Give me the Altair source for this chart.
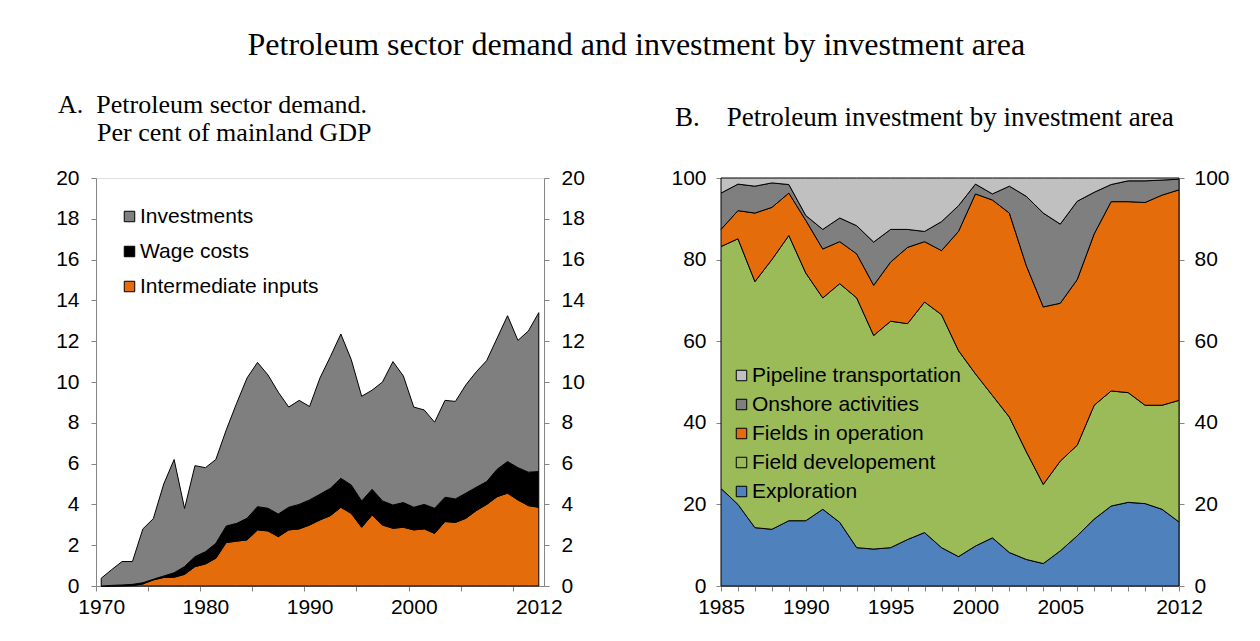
import altair as alt
import pandas as pd

# ---------------- Panel A data (per cent of mainland GDP) ----------------
years_a = list(range(1970, 2013))
intermediate_inputs = [0, 0, 0.01, 0.02, 0.1, 0.3, 0.42, 0.43, 0.57, 0.95,
                       1.08, 1.36, 2.13, 2.2, 2.26, 2.75, 2.7, 2.42, 2.75, 2.8,
                       2.99, 3.24, 3.45, 3.86, 3.56, 2.88, 3.48, 2.99, 2.83, 2.88,
                       2.75, 2.8, 2.58, 3.16, 3.12, 3.32, 3.7, 4.0, 4.38, 4.55,
                       4.22, 3.94, 3.86]
wage_costs = [0, 0.03, 0.04, 0.06, 0.06, 0.03, 0.07, 0.22, 0.38, 0.49,
              0.60, 0.73, 0.81, 0.87, 1.06, 1.14, 1.11, 1.11, 1.11, 1.2,
              1.23, 1.26, 1.34, 1.42, 1.39, 1.29, 1.26, 1.18, 1.14, 1.21,
              1.11, 1.2, 1.23, 1.19, 1.15, 1.23, 1.14, 1.12, 1.34, 1.55,
              1.58, 1.64, 1.75]
investments = [0.38, 0.77, 1.15, 1.12, 2.64, 2.97, 4.51, 5.55, 2.85, 4.46,
               4.12, 4.11, 4.71, 5.89, 6.88, 7.07, 6.54, 5.97, 4.91, 5.1,
               4.58, 5.7, 6.46, 7.07, 6.15, 5.13, 4.86, 5.83, 7.03, 6.21,
               4.91, 4.63, 4.22, 4.75, 4.78, 5.31, 5.66, 5.93, 6.43, 7.15,
               6.24, 6.92, 7.79]

# ---------------- Panel B data (per cent of petroleum investment) ----------------
years_b = list(range(1985, 2013))
exploration = [23.9, 20.0, 14.3, 13.9, 16.0, 16.0, 18.8, 15.6, 9.4, 9.05,
               9.4, 11.4, 13.1, 9.4, 7.2, 9.8, 11.8, 8.2, 6.5, 5.5,
               8.6, 12.3, 16.4, 19.6, 20.5, 20.2, 18.8, 15.7]
field_developement = [59.3, 65.1, 60.3, 66.1, 69.9, 60.7, 51.8, 58.5, 61.2, 52.35,
                      55.5, 52.9, 56.5, 57.1, 50.5, 42.2, 34.9, 33.2, 26.4, 19.4,
                      22.0, 22.2, 27.9, 28.2, 26.9, 24.1, 25.5, 29.8]
fields_in_operation = [4.2, 6.9, 16.8, 12.8, 10.4, 12.9, 12.0, 10.3, 10.8, 12.3,
                       14.5, 18.7, 14.8, 15.7, 29.2, 44.1, 47.9, 50.0, 45.6, 43.5,
                       38.7, 40.6, 42.0, 46.4, 46.8, 49.7, 51.5, 51.6]
onshore_activities = [8.9, 6.5, 6.6, 6.0, 2.1, 1.2, 4.8, 5.8, 6.9, 10.6,
                      8.0, 4.4, 2.5, 7.1, 6.3, 2.4, 1.5, 6.6, 17.0, 23.0,
                      19.4, 19.2, 10.2, 4.2, 5.1, 5.3, 3.7, 2.6]
pipeline_transportation = [3.7, 1.5, 2.0, 1.2, 1.6, 9.2, 12.6, 9.8, 11.7, 15.7,
                           12.6, 12.6, 13.1, 10.7, 6.8, 1.5, 3.9, 2.0, 4.5, 8.6,
                           11.3, 5.7, 3.5, 1.6, 0.7, 0.7, 0.5, 0.3]

series_a = ["Investments", "Wage costs", "Intermediate inputs"]
colors_a = ["#7F7F7F", "#000000", "#E46C0A"]
series_b = ["Pipeline transportation", "Onshore activities", "Fields in operation",
            "Field developement", "Exploration"]
colors_b = ["#C0C0C0", "#7F7F7F", "#E46C0A", "#9BBB59", "#4F81BD"]

x_ticks_a = [1969.5 + 5 * k for k in range(9)]
x_labels_a = [1970, 1980, 1990, 2000, 2012]
x_labels_b = [1985, 1990, 1995, 2000, 2005, 2012]

rows = []
for vals, name, o in [(intermediate_inputs, "Intermediate inputs", 0),
                      (wage_costs, "Wage costs", 1),
                      (investments, "Investments", 2)]:
    for yr, v in zip(years_a, vals):
        rows.append({"year": yr, "series": name, "value": v, "ord": o})
df_a = pd.DataFrame(rows)

rows = []
for vals, name, o in [(exploration, "Exploration", 0),
                      (field_developement, "Field developement", 1),
                      (fields_in_operation, "Fields in operation", 2),
                      (onshore_activities, "Onshore activities", 3),
                      (pipeline_transportation, "Pipeline transportation", 4)]:
    for yr, v in zip(years_b, vals):
        rows.append({"year": yr, "series": name, "value": v, "ord": o})
df_b = pd.DataFrame(rows)

AX = "#868686"
SANS = "Liberation Sans"
SERIF = "Liberation Serif"
FS = 21

def y_axis(vals, orient, pad):
    return alt.Axis(values=vals, orient=orient, title=None, grid=False,
                    tickSize=5, tickColor=AX, domainColor=AX, labelPadding=pad,
                    labelFont=SANS, labelFontSize=FS, labelColor="black")

def legend(x, y, rowpad):
    return alt.Legend(orient="none", legendX=x, legendY=y, title=None,
                      symbolType="square", symbolSize=110, symbolStrokeColor="black",
                      symbolStrokeWidth=1, symbolOpacity=1, labelFont=SANS,
                      labelFontSize=FS, labelColor="black", rowPadding=rowpad,
                      labelOffset=0, labelLimit=0)

# ---------------- Panel A ----------------
xs_a = alt.Scale(domain=[1969.5, 2012.5], nice=False, zero=False)
ys_a = alt.Scale(domain=[0, 20], nice=False)
x_axis_a = alt.Axis(values=sorted(x_ticks_a + x_labels_a), title=None, grid=False, format="d",
                    labelExpr="datum.value % 1 == 0 ? datum.label : ''",
                    tickOpacity={"condition": {"test": "datum.value % 1 == 0", "value": 0}, "value": 1},
                    labelOverlap=False, labelBound=False, labelFlush=False,
                    tickSize=5, tickColor=AX, domainColor=AX, labelPadding=5,
                    labelFont=SANS, labelFontSize=FS, labelColor="black")

area_a = alt.Chart(df_a).mark_area(stroke="black", strokeWidth=1, opacity=1).encode(
    x=alt.X("year:Q", scale=xs_a, axis=x_axis_a),
    y=alt.Y("value:Q", stack="zero", scale=ys_a, axis=y_axis(list(range(0, 21, 2)), "left", 12)),
    color=alt.Color("series:N", sort=series_a,
                    scale=alt.Scale(domain=series_a, range=colors_a),
                    legend=legend(23, 28, 13)),
    order=alt.Order("ord:Q", sort="ascending"),
)
right_a = alt.Chart(df_a).mark_line(opacity=0).encode(
    x=alt.X("year:Q", scale=xs_a, axis=x_axis_a),
    y=alt.Y("value:Q", scale=ys_a, axis=y_axis(list(range(0, 21, 2)), "right", 12)),
)
left = alt.layer(area_a, right_a).resolve_axis(y="independent").properties(
    width=448, height=408,
    title=alt.TitleParams(
        text=["A.\u00a0\u00a0Petroleum sector demand.",
              "\u200b" + "\u00a0" * 6 + "Per cent of mainland GDP"],
        anchor="start", frame="group", dx=-38, offset=21, font=SERIF, fontSize=26,
        fontWeight="normal", lineHeight=28, color="black"),
)

# ---------------- Panel B ----------------
xs_b = alt.Scale(domain=[1985, 2012], nice=False, zero=False)
ys_b = alt.Scale(domain=[0, 100], nice=False)
x_axis_b = alt.Axis(values=years_b, title=None, grid=False, format="d",
                    labelExpr="indexof([1985, 1990, 1995, 2000, 2005, 2012], datum.value) >= 0 ? datum.label : ''",
                    labelOverlap=False, labelBound=False, labelFlush=False,
                    tickSize=5, tickColor=AX, domainColor=AX, labelPadding=5,
                    labelFont=SANS, labelFontSize=FS, labelColor="black")

area_b = alt.Chart(df_b).mark_area(stroke="black", strokeWidth=1, opacity=1).encode(
    x=alt.X("year:Q", scale=xs_b, axis=x_axis_b),
    y=alt.Y("value:Q", stack="zero", scale=ys_b, axis=y_axis(list(range(0, 101, 20)), "left", 10)),
    color=alt.Color("series:N", sort=series_b,
                    scale=alt.Scale(domain=series_b, range=colors_b),
                    legend=legend(10, 187, 7)),
    order=alt.Order("ord:Q", sort="ascending"),
)
right_b = alt.Chart(df_b).mark_line(opacity=0).encode(
    x=alt.X("year:Q", scale=xs_b, axis=x_axis_b),
    y=alt.Y("value:Q", scale=ys_b, axis=y_axis(list(range(0, 101, 20)), "right", 10)),
)
right = alt.layer(area_b, right_b).resolve_axis(y="independent").properties(
    width=458, height=408,
    title=alt.TitleParams(
        text="B.\u00a0\u00a0\u00a0\u00a0Petroleum investment by investment area",
        anchor="start", frame="group", dx=-46, offset=35, font=SERIF, fontSize=27,
        fontWeight="normal", color="black"),
)

chart = alt.hconcat(left, right, spacing=177, bounds="flush").resolve_scale(color="independent").properties(
    title=alt.TitleParams(
        text="Petroleum sector demand and investment by investment area",
        anchor="middle", font=SERIF, fontSize=32, fontWeight="normal", color="black",
        offset=30, dx=-6),
    padding={"left": 47, "top": 20, "right": 10, "bottom": 10},
).configure_view(stroke=AX, strokeWidth=1).configure(background="white")

chart.save("out.html", embed_options={"renderer": "svg", "actions": False})
